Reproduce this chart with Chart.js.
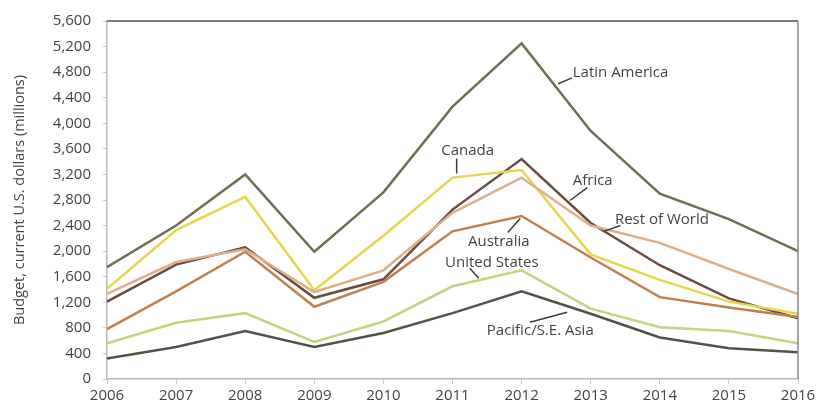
<!DOCTYPE html>
<html>
<head>
<meta charset="utf-8">
<script src="https://cdn.jsdelivr.net/npm/chart.js@4"></script>
<style>
  html, body { margin: 0; padding: 0; background: #fff; }
  #wrap { width: 822px; height: 406px; }
</style>
</head>
<body>
<div id="wrap"><canvas id="graphCanvas"></canvas></div>
<script>
var years = ['2006', '2007', '2008', '2009', '2010', '2011', '2012', '2013', '2014', '2015', '2016'];
var latinAmerica = [1750, 2400, 3200, 1990, 2920, 4260, 5250, 3880, 2900, 2500, 2000];
var canada       = [1410, 2330, 2850, 1390, 2240, 3150, 3270, 1950, 1550, 1210, 1020];
var africa       = [1210, 1790, 2060, 1270, 1560, 2650, 3440, 2440, 1780, 1260, 950];
var restOfWorld  = [1330, 1830, 2030, 1360, 1700, 2600, 3150, 2400, 2130, 1720, 1330];
var australia    = [780, 1370, 1990, 1130, 1520, 2310, 2550, 1900, 1280, 1120, 970];
var unitedStates = [560, 880, 1030, 580, 900, 1450, 1700, 1100, 810, 750, 560];
var pacificAsia  = [320, 500, 750, 500, 720, 1030, 1370, 1020, 650, 480, 420];
var yTicks = [0, 400, 800, 1200, 1600, 2000, 2400, 2800, 3200, 3600, 4000, 4400, 4800, 5200, 5600];

// series labels placed in data units (x = year index, y = value), with leader lines
var seriesLabels = [
  { text: 'Latin America', x: 6.74, y: 4790, align: 'left', lead: [6.53, 4618, 6.73, 4711] },
  { text: 'Canada', x: 5.22, y: 3572, align: 'center', lead: [5.06, 3448, 5.06, 3214] },
  { text: 'Africa', x: 6.74, y: 3104, align: 'left', lead: [6.95, 2995, 6.70, 2792] },
  { text: 'Rest of World', x: 7.35, y: 2496, align: 'left', lead: [7.19, 2309, 7.43, 2402] },
  { text: 'Australia', x: 5.67, y: 2153, align: 'center', lead: [5.80, 2293, 5.98, 2512] },
  { text: 'United States', x: 5.57, y: 1825, align: 'center', lead: [5.25, 1732, 5.38, 1576] },
  { text: 'Pacific/S.E. Asia', x: 6.27, y: 749, align: 'center', lead: [6.12, 889, 6.66, 1045] }
];

var labelPlugin = {
  id: 'labelPlugin',
  afterDatasetsDraw: function(chart) {
    var ctx = chart.ctx, xs = chart.scales.x, ys = chart.scales.y, a = chart.chartArea;
    ctx.save();
    // frame: top and right edges
    ctx.strokeStyle = '#7d7d7d';
    ctx.lineWidth = 2;
    ctx.beginPath();
    ctx.moveTo(a.left, a.top);
    ctx.lineTo(a.right, a.top);
    ctx.stroke();
    ctx.lineWidth = 1.5;
    ctx.strokeStyle = '#8a8a8a';
    ctx.beginPath();
    ctx.moveTo(a.right, a.top);
    ctx.lineTo(a.right, a.bottom);
    ctx.stroke();

    ctx.font = '15px "Open Sans"';
    ctx.textBaseline = 'middle';
    seriesLabels.forEach(function(l) {
      ctx.strokeStyle = '#3c3c3c';
      ctx.lineWidth = 1.5;
      ctx.beginPath();
      ctx.moveTo(xs.getPixelForValue(l.lead[0]), ys.getPixelForValue(l.lead[1]));
      ctx.lineTo(xs.getPixelForValue(l.lead[2]), ys.getPixelForValue(l.lead[3]));
      ctx.stroke();
      ctx.fillStyle = '#444';
      ctx.textAlign = l.align;
      ctx.fillText(l.text, xs.getPixelForValue(l.x), ys.getPixelForValue(l.y));
    });
    ctx.restore();
  }
};

function series(label, data, color) {
  return { label: label, data: data, borderColor: color, backgroundColor: color,
           borderWidth: 2.5, pointRadius: 0, tension: 0, fill: false };
}

var mychart = new Chart(document.getElementById('graphCanvas'), {
  type: 'line',
  data: {
    labels: years,
    datasets: [
      series('Pacific/S.E. Asia', pacificAsia, '#4f5545'),
      series('United States', unitedStates, '#bdd680'),
      series('Australia', australia, '#c2804c'),
      series('Rest of World', restOfWorld, '#dcb08c'),
      series('Canada', canada, '#e6d64c'),
      series('Africa', africa, '#6b4d40'),
      series('Latin America', latinAmerica, '#736d52')
    ]
  },
  options: {
    responsive: true,
    maintainAspectRatio: false,
    animation: false,
    layout: { padding: { top: 19, right: 24, left: 0, bottom: 0 } },
    plugins: { legend: { display: false }, tooltip: { enabled: false } },
    scales: {
      x: {
        offset: false,
        grid: { drawOnChartArea: false, tickLength: 5, color: '#c8c8c8' },
        border: { color: '#b8b8b8', width: 1.5 },
        ticks: { color: '#444', font: { family: 'Open Sans', size: 15 }, padding: 3, maxRotation: 0 },
        afterFit: function(s) { s.height = 27; }
      },
      y: {
        min: 0, max: 5600,
        afterBuildTicks: function(s) { s.ticks = yTicks.map(function(v) { return { value: v }; }); },
        grid: { drawOnChartArea: false, tickLength: 4, color: '#c8c8c8' },
        border: { color: '#b8b8b8', width: 1.5 },
        ticks: {
          color: '#444', font: { family: 'Open Sans', size: 15 }, padding: 12,
          callback: function(v) { return v.toLocaleString('en-US'); }
        },
        title: { display: true, text: 'Budget, current U.S. dollars (millions)', color: '#444',
                 font: { family: 'Open Sans', size: 14.5 }, padding: { top: 11, bottom: 0 } },
        afterFit: function(s) { s.width = 107; }
      }
    }
  },
  plugins: [labelPlugin]
});
</script>
</body>
</html>
